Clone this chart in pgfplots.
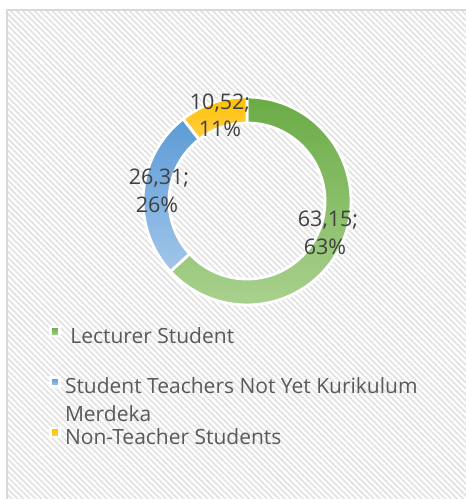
\documentclass[border=0pt]{standalone}
\usepackage{pgfplots}
\pgfplotsset{compat=1.18}
\usepackage{pgfplotstable}
\usepackage{fontspec}
\setmainfont{Open Sans}
\usetikzlibrary{patterns.meta}
\definecolor{txt}{HTML}{404040}
\definecolor{legtxt}{HTML}{595959}
\definecolor{gTop}{HTML}{6AAB45}
\definecolor{gBot}{HTML}{A9D18E}
\definecolor{bTop}{HTML}{5B9BD5}
\definecolor{bBot}{HTML}{A2C6EA}
\definecolor{yTop}{HTML}{FFC000}
\definecolor{yBot}{HTML}{FFCF4A}
\pgfplotstableread{
label value
A 63.15
B 26.31
C 10.52
}\donutdata
\begin{document}%
\begin{tikzpicture}%
\pgfplotstablegetelem{0}{value}\of\donutdata \let\va\pgfplotsretval
\pgfplotstablegetelem{1}{value}\of\donutdata \let\vb\pgfplotsretval
\pgfplotstablegetelem{2}{value}\of\donutdata \let\vc\pgfplotsretval
\pgfmathsetmacro\total{\va+\vb+\vc}
\pgfmathsetmacro\aA{90}
\pgfmathsetmacro\aB{90-(\va/\total)*360}
\pgfmathsetmacro\aC{\aB-(\vb/\total)*360}
\pgfmathsetmacro\aD{\aC-(\vc/\total)*360}
\def\cx{247}\def\cy{298}\def\Ro{104}\def\Ri{78}
\useasboundingbox (0,0) rectangle (466pt,499pt);
\begin{axis}[
  anchor=south west, at={(0,0)},
  width=466pt, height=499pt, scale only axis,
  xmin=0, xmax=466, ymin=0, ymax=499,
  hide axis, clip=false,
  legend style={at={(axis cs:49,174)}, anchor=north west, draw=none, fill=none,
    inner sep=0pt, row sep=31pt, column sep=4pt,
    nodes={inner sep=0pt, text=legtxt, font=\fontsize{21}{28}\selectfont},
    cells={anchor=west}},
  legend image code/.code={\fill[#1] (0pt,-1pt) rectangle (9pt,8pt);},
]
% background
\fill[pattern={Lines[angle=-45,distance=4.2pt,line width=1.8pt]}, pattern color=gray!22]
  (axis cs:7,0) rectangle (axis cs:466,489);
\draw[gray!30, line width=2pt] (axis cs:7,0) -- (axis cs:7,489) -- (axis cs:466,489);
% donut segments
\addplot[draw=white, line width=2.8pt, top color=gTop, bottom color=gBot, domain=\aB:\aA, samples=90, variable=\t]
  ({\cx+\Ro*cos(\t)},{\cy+\Ro*sin(\t)}) -- (axis cs:{\cx+\Ri*cos(\aA)},{\cy+\Ri*sin(\aA)})
  arc[start angle=\aA, end angle=\aB, radius=\Ri pt] -- cycle;
\addlegendentry{\rule{0pt}{18pt} Lecturer Student}
\addplot[draw=white, line width=2.8pt, top color=bTop, bottom color=bBot, domain=\aC:\aB, samples=60, variable=\t]
  ({\cx+\Ro*cos(\t)},{\cy+\Ro*sin(\t)}) -- (axis cs:{\cx+\Ri*cos(\aB)},{\cy+\Ri*sin(\aB)})
  arc[start angle=\aB, end angle=\aC, radius=\Ri pt] -- cycle;
\addlegendentry{\parbox[t]{400pt}{\rule{0pt}{18pt}Student Teachers Not Yet Kurikulum\\Merdeka}}
\addplot[draw=white, line width=2.8pt, top color=yTop, bottom color=yBot, domain=\aD:\aC, samples=30, variable=\t]
  ({\cx+\Ro*cos(\t)},{\cy+\Ro*sin(\t)}) -- (axis cs:{\cx+\Ri*cos(\aC)},{\cy+\Ri*sin(\aC)})
  arc[start angle=\aC, end angle=\aD, radius=\Ri pt] -- cycle;
\addlegendentry{\rule{0pt}{18pt}Non-Teacher Students}
% data labels
\begin{scope}[every node/.style={anchor=base, text=txt, font=\fontsize{21.5}{27}\selectfont, inner sep=0pt}]
\node at (axis cs:220,389) {10,52;};
\node at (axis cs:220,362) {11\%};
\node at (axis cs:159,314) {26,31;};
\node at (axis cs:157,286) {26\%};
\node at (axis cs:328,272) {63,15;};
\node at (axis cs:325,244) {63\%};
\end{scope}
\end{axis}
\end{tikzpicture}%
\end{document}
